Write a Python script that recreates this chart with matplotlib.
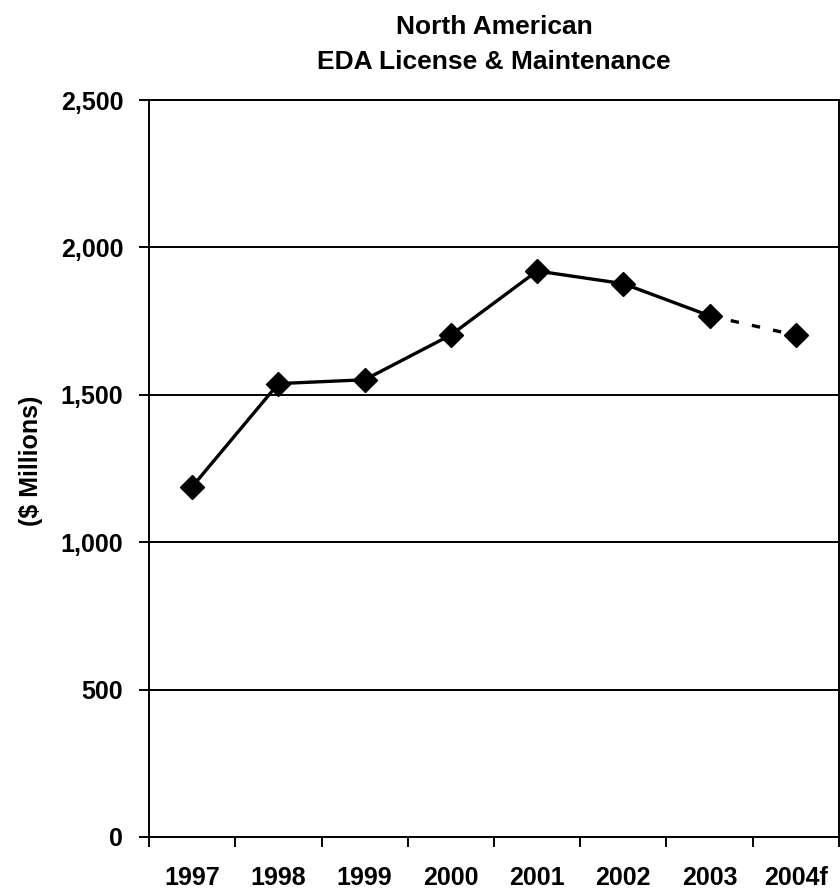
import numpy as np
import matplotlib.pyplot as plt

years = ['1997', '1998', '1999', '2000', '2001', '2002', '2003', '2004f']
revenue = [1188, 1538, 1551, 1703, 1920, 1877, 1768, 1702]
n_actual = 7  # last point is a forecast
yticks = [0, 500, 1000, 1500, 2000, 2500]

plt.rcParams['font.family'] = ['Liberation Sans', 'DejaVu Sans']
plt.rcParams['font.weight'] = 'bold'

fig = plt.figure(figsize=(8.4, 8.9), dpi=100)
ax = fig.add_axes([0.1774, 0.0596, 0.8214, 0.828])

xx = np.arange(len(years))
ax.plot(xx[:n_actual], revenue[:n_actual], color='black', lw=2.4, zorder=3)
ax.plot(xx[n_actual-1:], revenue[n_actual-1:], color='black', lw=2.4,
        ls=(0, (2.5, 4)), zorder=3)
ax.plot(xx, revenue, ls='none', marker='D', ms=12, color='black', zorder=4)

ax.set_xlim(-0.5, len(years) - 0.5)
ax.set_ylim(0, 2500)
ax.set_yticks(yticks)
ax.set_yticklabels(['{:,}'.format(v) for v in yticks], fontsize=18, fontweight='bold')
ax.yaxis.grid(True, color='black', lw=1.4)
ax.set_axisbelow(True)

ax.set_xticks(np.arange(-0.5, len(years)), minor=False)
ax.set_xticklabels([])
ax.set_xticks(xx, minor=True)
ax.set_xticklabels(years, minor=True, fontsize=18, fontweight='bold')
ax.tick_params(axis='x', which='major', length=7, width=1.4, direction='out')
ax.tick_params(axis='x', which='minor', length=0, pad=21)
ax.tick_params(axis='y', length=7.5, width=1.4, direction='out', pad=11)

for sp in ax.spines.values():
    sp.set_linewidth(1.4)
    sp.set_color('black')

ax.set_ylabel('($ Millions)', fontsize=18, fontweight='bold')
ax.yaxis.set_label_coords(-0.154, 0.51)
ax.set_title('North American\nEDA License & Maintenance', fontsize=19,
             fontweight='bold', pad=22, linespacing=1.6)

fig.savefig('out.png', dpi=100)
